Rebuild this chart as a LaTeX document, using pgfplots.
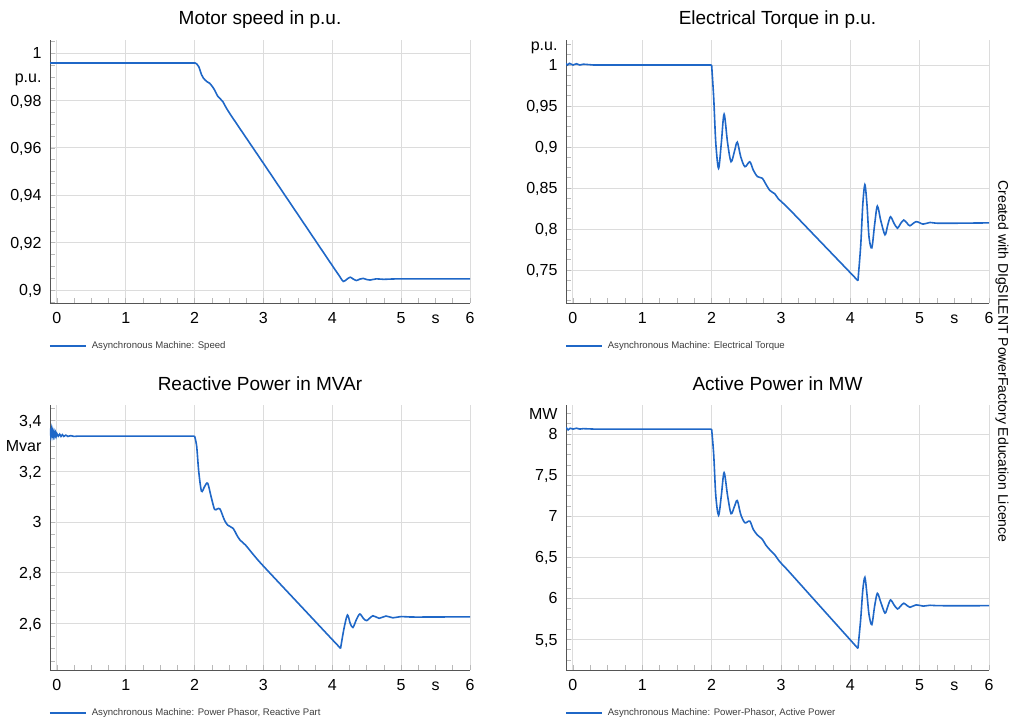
\documentclass[border=0pt]{standalone}
\usepackage{pgfplots}
\pgfplotsset{compat=1.18}
\usepackage{fontspec}
\setmainfont{Liberation Sans}

\definecolor{curve}{RGB}{31,103,199}
\definecolor{gridc}{RGB}{220,220,220}
\definecolor{axc}{RGB}{85,85,85}
\definecolor{legc}{RGB}{60,60,60}

\pgfplotsset{
  dig/.style={
    scale only axis, anchor=north west,
    axis x line*=bottom, axis y line*=left,
    axis line style={axc, line width=0.9pt},
    xmin=-0.1, xmax=6,
    xtick={0,1,2,3,4,5,6},
    minor xtick={0,0.25,...,6},
    grid=major,
    major grid style={gridc, line width=0.9pt},
    tick align=inside,
    major tick length=0pt,
    minor tick length=5pt,
    minor tick style={gray!55, line width=0.6pt},
    tick label style={font=\fontsize{16}{16}\selectfont, text=black},
    xticklabel style={text height=11.3pt, text depth=0pt, yshift=-5.7pt},
    yticklabel style={text height=11.3pt, text depth=0pt, xshift=-5pt},
    /pgf/number format/assume math mode=true,
    /pgf/number format/use comma,
    extra x ticks={5.5}, extra x tick labels={s},
    extra x tick style={grid=none, major tick length=0pt},
    extra y tick style={grid=none, major tick length=0pt},
    title style={font=\fontsize{19}{20}\selectfont, at={(0.5,1)}, anchor=base, yshift=9pt},
    legend style={at={(0,0)}, anchor=west, yshift=-42.7pt, xshift=-1pt, draw=none, fill=none,
      inner sep=0pt, font=\fontsize{9.6}{10}\selectfont, text=legc},
    legend image code/.code={\draw[#1] (0pt,0pt) -- (36pt,0pt); \path (39pt,0pt);},
    legend cell align=left,
  },
  crv/.style={curve, line width=1.6pt},
  sm/.style={crv, smooth, tension=0.5, forget plot},
}

\begin{document}
\begin{tikzpicture}
\path[use as bounding box] (0pt,0pt) rectangle (1011pt,-722pt);

% Motor speed
\begin{axis}[dig, at={(50pt,-40pt)}, width=420pt, height=263pt,
  ymin=0.8945, ymax=1.0056,
  ytick={0.9,0.92,0.94,0.96,0.98,1},
  minor ytick={0.895,0.9,...,1.005},
  extra y ticks={0.99}, extra y tick labels={p.u.},
  title={Motor speed in p.u.}]
\addplot[crv] coordinates {(-0.1,0.996) (1.0,0.996) (2.0,0.996)};
\addlegendentry{Asynchronous Machine: Speed}
\addplot[sm] coordinates {
(2.0,0.996) (2.03,0.9955) (2.06,0.9944) (2.10,0.991) (2.13,0.9894) (2.18,0.988)
(2.22,0.9873) (2.28,0.985) (2.34,0.9817) (2.41,0.9796) (2.51,0.9746) (3.0,0.9535)
(3.5,0.9319) (4.0,0.9103) (4.08,0.9069) (4.11,0.9056) (4.16,0.9036) (4.21,0.9045)
(4.26,0.9054) (4.30,0.9047) (4.35,0.9040) (4.40,0.9046) (4.45,0.9049) (4.50,0.9044)
(4.55,0.9042) (4.64,0.9047) (4.75,0.9045) (5.0,0.9047) (6.0,0.9047)
};
\end{axis}

% Electrical torque
\begin{axis}[dig, at={(566pt,-40pt)}, width=423pt, height=263pt,
  ymin=0.7098, ymax=1.0305,
  ytick={0.75,0.8,0.85,0.9,0.95,1},
  minor ytick={0.7125,0.725,...,1.03},
  extra y ticks={1.025}, extra y tick labels={p.u.},
  title={Electrical Torque in p.u.}]
\addplot[crv] coordinates {
(-0.1,1.002) (-0.08,1.0) (-0.05,1.002) (0,1.0) (0.05,1.0015) (0.1,1.0) (0.15,1.001)
(0.3,1.0) (1.0,1.0) (2.0,1.0)
};
\addlegendentry{Asynchronous Machine: Electrical Torque}
\addplot[sm] coordinates {
(2.0,1.0) (2.03,0.96) (2.06,0.905) (2.10,0.874) (2.14,0.905) (2.18,0.940) (2.23,0.905)
(2.28,0.882) (2.33,0.895) (2.37,0.906) (2.42,0.888) (2.48,0.876) (2.55,0.882)
(2.60,0.872) (2.66,0.864) (2.73,0.862) (2.78,0.855) (2.84,0.847) (2.91,0.843)
(2.96,0.837) (3.01,0.833) (3.11,0.825) (3.5,0.7907) (4.0,0.7467) (4.05,0.7423)
(4.08,0.7396) (4.11,0.737)
};
\addplot[sm] coordinates {
(4.11,0.737) (4.15,0.78) (4.18,0.83) (4.21,0.854) (4.24,0.83) (4.27,0.79) (4.31,0.777)
(4.35,0.805) (4.39,0.828) (4.44,0.810) (4.50,0.793) (4.54,0.805) (4.58,0.815)
(4.63,0.807) (4.68,0.801) (4.72,0.806) (4.77,0.811) (4.82,0.807) (4.86,0.804)
(4.95,0.809) (5.05,0.806) (5.15,0.808) (5.3,0.807) (6.0,0.8075)
};
\end{axis}

% Reactive power
\begin{axis}[dig, at={(50pt,-405pt)}, width=420pt, height=265pt,
  ymin=2.416, ymax=3.462,
  ytick={2.6,2.8,3,3.2,3.4},
  minor ytick={2.45,2.5,...,3.45},
  extra y ticks={3.3}, extra y tick labels={Mvar},
  title={Reactive Power in MVAr}]
\addplot[crv] coordinates {
(-0.1,3.37) (-0.09,3.345) (-0.08,3.365) (-0.07,3.342) (-0.06,3.36) (-0.05,3.341)
(-0.04,3.355) (-0.03,3.34) (-0.02,3.352) (-0.01,3.339) (0,3.349) (0.02,3.339)
(0.04,3.347) (0.06,3.338) (0.08,3.345) (0.1,3.338) (0.13,3.343) (0.16,3.338)
(0.2,3.341) (0.25,3.338) (0.3,3.339) (1.0,3.339) (2.0,3.339)
};
\addlegendentry{Asynchronous Machine: Power Phasor, Reactive Part}
\addplot[sm] coordinates {
(2.0,3.339) (2.03,3.30) (2.06,3.2) (2.10,3.122) (2.145,3.14) (2.19,3.153) (2.24,3.10)
(2.29,3.05) (2.33,3.052) (2.37,3.051) (2.43,3.01) (2.48,2.988) (2.56,2.975)
(2.61,2.95) (2.66,2.929) (2.74,2.909) (2.87,2.866) (3.0,2.826) (3.5,2.681)
(4.0,2.536) (4.06,2.519) (4.09,2.510) (4.12,2.501)
};
\addplot[sm] coordinates {
(4.12,2.501) (4.17,2.58) (4.22,2.633) (4.26,2.60) (4.30,2.584) (4.35,2.615)
(4.40,2.637) (4.45,2.62) (4.50,2.611) (4.59,2.630) (4.68,2.620) (4.78,2.629)
(4.88,2.622) (5.0,2.627) (5.2,2.625) (6.0,2.626)
};
\end{axis}

% Active power
\begin{axis}[dig, at={(566pt,-405pt)}, width=423pt, height=265pt,
  ymin=5.127, ymax=8.353,
  ytick={5.5,6,6.5,7,7.5,8},
  minor ytick={5.25,5.375,...,8.35},
  extra y ticks={8.25}, extra y tick labels={MW},
  title={Active Power in MW}]
\addplot[crv] coordinates {
(-0.1,8.08) (-0.07,8.05) (-0.04,8.07) (0,8.06) (0.05,8.07) (0.1,8.06) (0.15,8.065)
(0.3,8.06) (1.0,8.06) (2.0,8.06)
};
\addlegendentry{Asynchronous Machine: Power-Phasor, Active Power}
\addplot[sm] coordinates {
(2.0,8.06) (2.03,7.75) (2.06,7.25) (2.10,7.01) (2.14,7.25) (2.18,7.53) (2.23,7.25)
(2.28,7.03) (2.33,7.12) (2.37,7.19) (2.42,7.02) (2.48,6.92) (2.55,6.94) (2.60,6.84)
(2.66,6.77) (2.73,6.72) (2.78,6.65) (2.84,6.59) (2.91,6.53) (2.96,6.47) (3.01,6.42)
(3.11,6.33) (3.5,5.963) (4.0,5.493) (4.05,5.446) (4.08,5.418) (4.11,5.39)
};
\addplot[sm] coordinates {
(4.11,5.39) (4.15,5.75) (4.18,6.1) (4.21,6.255) (4.24,6.05) (4.27,5.8) (4.31,5.68)
(4.35,5.9) (4.39,6.06) (4.44,5.95) (4.50,5.82) (4.54,5.9) (4.58,5.98) (4.63,5.92)
(4.68,5.87) (4.72,5.9) (4.77,5.94) (4.82,5.91) (4.86,5.89) (4.95,5.92) (5.05,5.905)
(5.15,5.915) (5.3,5.91) (6.0,5.91)
};
\end{axis}

\node[rotate=-90, font=\fontsize{14}{14}\selectfont, text=black] at (1002pt,-361.5pt)
  {Created with DIgSILENT PowerFactory Education Licence};
\end{tikzpicture}
\end{document}
